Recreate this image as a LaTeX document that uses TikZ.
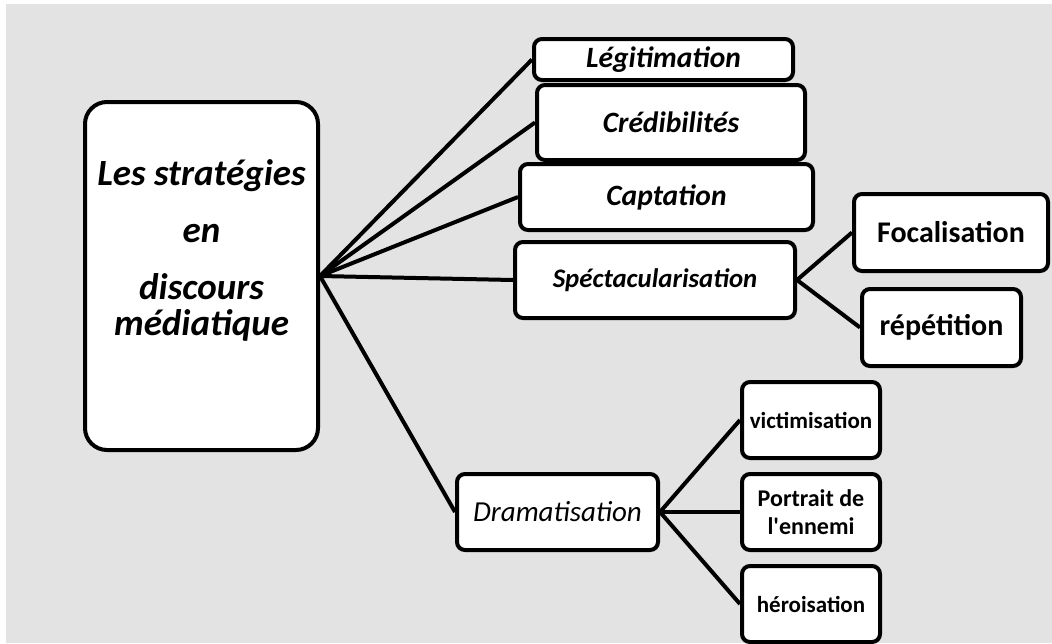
\documentclass[tikz,border=0pt]{standalone}
\usepackage{fontspec}
\setmainfont{Carlito}
\usepackage{tikz}
\usetikzlibrary{positioning}

\definecolor{bggray}{RGB}{227,227,227}

\begin{document}
\begin{tikzpicture}[
    x=1pt, y=-1pt,
    box style/.style={rectangle, rounded corners=8pt, draw=black, fill=white, line width=4pt, inner sep=2pt, align=center},
    main style/.style={box style, rounded corners=22pt, minimum width=233pt, minimum height=348pt, font=\bfseries\itshape\fontsize{37}{36}\selectfont},
    strat style/.style={box style, font=\bfseries\itshape\fontsize{29.5}{32}\selectfont},
    sub style/.style={box style, minimum width=138pt, minimum height=76pt, font=\bfseries\fontsize{23}{28}\selectfont},
    link/.style={line width=4pt}
]
\useasboundingbox (0,0) rectangle (1052,643);
\fill[bggray] (6,4) rectangle (1052,643);

\node[main style] (main) at (201.5,276) {Les stratégies\\[21pt]en\\[21pt]discours\\médiatique\\[20pt]\mbox{}};

\node[strat style, minimum width=259pt, minimum height=41pt] (legit) at (663.5,59.5) {Légitimation};
\node[strat style, minimum width=268pt, minimum height=75pt] (credib) at (671,122.5) {Crédibilités};
\node[strat style, minimum width=293pt, minimum height=66pt] (capt) at (666.5,197) {Captation};
\node[strat style, minimum width=280pt, minimum height=76pt, font=\bfseries\itshape\fontsize{26.8}{30}\selectfont] (spect) at (655,280) {Spéctacularisation};
\node[strat style, minimum width=201pt, minimum height=76pt, font=\itshape\fontsize{29}{34}\selectfont] (drama) at (557.5,512) {Dramatisation};

\node[sub style, minimum width=194pt, minimum height=77pt, font=\bfseries\fontsize{30}{32}\selectfont] (focal) at (951,232.5) {Focalisation};
\node[sub style, minimum width=159pt, minimum height=77pt, font=\bfseries\fontsize{30}{32}\selectfont] (repet) at (941.5,327.5) {répétition};

\node[sub style] (victim) at (811,420) {victimisation};
\node[sub style, font=\bfseries\fontsize{24}{28}\selectfont] (ennemi) at (811,512) {Portrait de\\l\textquotesingle ennemi};
\node[sub style] (hero) at (811,604) {héroisation};

\draw[link] (main.east) -- (legit.west);
\draw[link] (main.east) -- (credib.west);
\draw[link] (main.east) -- (capt.west);
\draw[link] (main.east) -- (spect.west);
\draw[link] (main.east) -- (drama.west);
\draw[link] (spect.east) -- (focal.west);
\draw[link] (spect.east) -- (repet.west);
\draw[link] (drama.east) -- (victim.west);
\draw[link] (drama.east) -- (ennemi.west);
\draw[link] (drama.east) -- (hero.west);
\end{tikzpicture}
\end{document}
